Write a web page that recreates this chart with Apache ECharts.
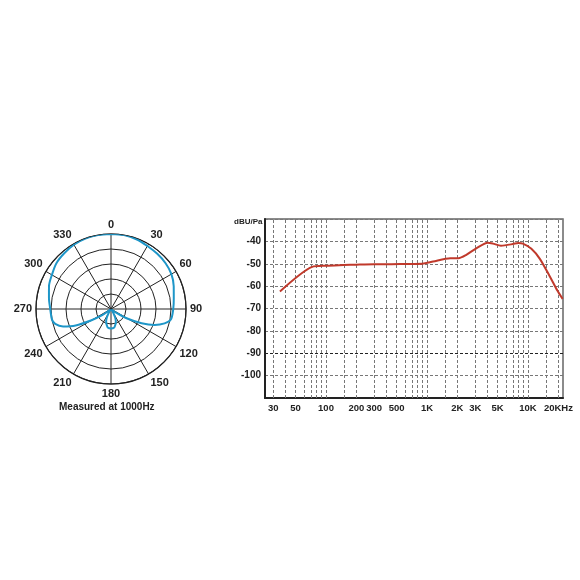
<!DOCTYPE html>
<html>
<head>
<meta charset="utf-8">
<script src="https://cdn.jsdelivr.net/npm/echarts@6/dist/echarts.min.js"></script>
<style>
html,body{margin:0;padding:0;background:#fff;}
#c{width:580px;height:580px;}
</style>
</head>
<body>
<div id="c"></div>
<script>
// Polar pattern (radius as fraction of outer ring, angle in degrees)
var polarAngles = [0,10,20,30,40,50,60,70,80,90,100,105,110,115,120,125,130,140,150,155,160,165,170,180,190,195,200,205,210,220,230,235,240,245,250,255,260,270,280,290,300,310,320,330,340,350,360];
var polarRadius = [1.0,1.0,0.99,0.97,0.96,0.95,0.93,0.89,0.85,0.83,0.81,0.74,0.62,0.45,0.26,0.09,0.02,0.01,0.07,0.14,0.19,0.22,0.25,0.26,0.25,0.22,0.19,0.14,0.07,0.01,0.03,0.15,0.30,0.52,0.68,0.77,0.80,0.81,0.84,0.88,0.91,0.95,0.97,0.99,1.0,1.0,1.0];
var polarTitle = 'Measured at 1000Hz';

// Frequency response
var freqs = [35,73,100,150,200,300,430,600,900,1150,1700,2050,2450,3100,4000,4500,5400,7100,8000,8900,10800,13100,16600,19500,22000];
var levels = [-62.4,-51.4,-50.9,-50.6,-50.4,-50.2,-50.2,-50.1,-50.0,-49.0,-47.5,-47.5,-46.0,-43.0,-40.6,-41.0,-41.9,-41.2,-40.7,-41.0,-43.3,-47.8,-56.0,-62.0,-65.7];
var tickFreqs = [30,50,100,200,300,500,1000,2000,3000,5000,10000,20000];
var tickLabels = ['30','50','100','200','300','500','1K','2K','3K','5K','10K','20KHz'];
var gridFreqs = [30,40,50,60,70,80,90,100,150,200,300,400,500,600,700,800,900,1000,1500,2000,3000,4000,5000,6000,7000,8000,9000,10000,15000,20000];
var darkGridLevels = [-90];
var yName = 'dBU/Pa';

var FONT = 'Liberation Sans, Arial, sans-serif';
var chart = echarts.init(document.getElementById('c'), null, {renderer: 'canvas'});
var tickLogs = tickFreqs.map(function(f){return Math.log10(f);});

var gridMarks = gridFreqs.map(function(f){return {xAxis: Math.log10(f)};})
  .concat(darkGridLevels.map(function(v){return {yAxis: v, lineStyle: {color: '#222', type: [3, 2], width: 1}};}));

chart.setOption({
  animation: false,
  backgroundColor: '#fff',
  polar: {center: [111, 309], radius: 75},
  angleAxis: {
    type: 'value', min: 0, max: 360, interval: 30, startAngle: 90, clockwise: true,
    axisLine: {show: true, lineStyle: {color: '#222', width: 1.2}},
    axisTick: {show: false},
    axisLabel: {margin: 4, align: 'center', verticalAlign: 'middle', fontSize: 11, fontWeight: 'bold', color: '#222', fontFamily: FONT,
      formatter: function(v){return v === 360 ? '' : String(v);}},
    splitLine: {show: true, lineStyle: {color: '#222', width: 1}}
  },
  radiusAxis: {
    type: 'value', min: 0, max: 1, interval: 0.2,
    axisLine: {show: false}, axisTick: {show: false}, axisLabel: {show: false},
    splitLine: {show: true, lineStyle: {color: '#222', width: 1}}
  },
  grid: {left: 265, right: 17, top: 219, bottom: 182, show: true, borderColor: '#666', borderWidth: 1.5},
  xAxis: {
    type: 'value', min: Math.log10(24.9), max: Math.log10(22200),
    axisLine: {show: true, onZero: false, lineStyle: {color: '#222', width: 2}},
    axisTick: {show: false},
    splitLine: {show: false},
    axisLabel: {customValues: tickLogs, margin: 5, fontSize: 9.5, fontWeight: 'bold', color: '#222', fontFamily: FONT,
      formatter: function(v){
        for (var i = 0; i < tickLogs.length; i++) { if (Math.abs(tickLogs[i] - v) < 1e-6) return tickLabels[i]; }
        return '';
      }}
  },
  yAxis: {
    type: 'value', min: -110, max: -30, interval: 10,
    axisLine: {show: true, onZero: false, lineStyle: {color: '#222', width: 2}},
    axisTick: {show: false},
    axisLabel: {showMinLabel: false, showMaxLabel: false, margin: 4, fontSize: 10, fontWeight: 'bold', color: '#222', fontFamily: FONT},
    splitLine: {show: true, lineStyle: {color: '#777', width: 1, type: [3, 2]}}
  },
  graphic: [
    {type: 'text', left: 111 - 52, top: 402, style: {text: polarTitle, font: 'bold 10px ' + FONT, fill: '#222'}},
    {type: 'text', left: 234, top: 218, style: {text: yName, font: 'bold 8px ' + FONT, fill: '#222'}}
  ],
  series: [
    {
      type: 'line', coordinateSystem: 'polar', polarIndex: 0,
      data: polarAngles.map(function(a, i){return [polarRadius[i], a];}),
      smooth: 0.3, symbol: 'none', showSymbol: false,
      lineStyle: {color: '#1e96c8', width: 2}
    },
    {
      type: 'line', xAxisIndex: 0, yAxisIndex: 0,
      data: freqs.map(function(f, i){return [Math.log10(f), levels[i]];}),
      smooth: 0.25, symbol: 'none', showSymbol: false,
      lineStyle: {color: '#c0392b', width: 2},
      z: 5,
      markLine: {
        silent: true, symbol: ['none', 'none'], label: {show: false},
        lineStyle: {type: [3, 2], color: '#777', width: 1},
        emphasis: {disabled: true},
        data: gridMarks
      }
    }
  ]
});
</script>
</body>
</html>
